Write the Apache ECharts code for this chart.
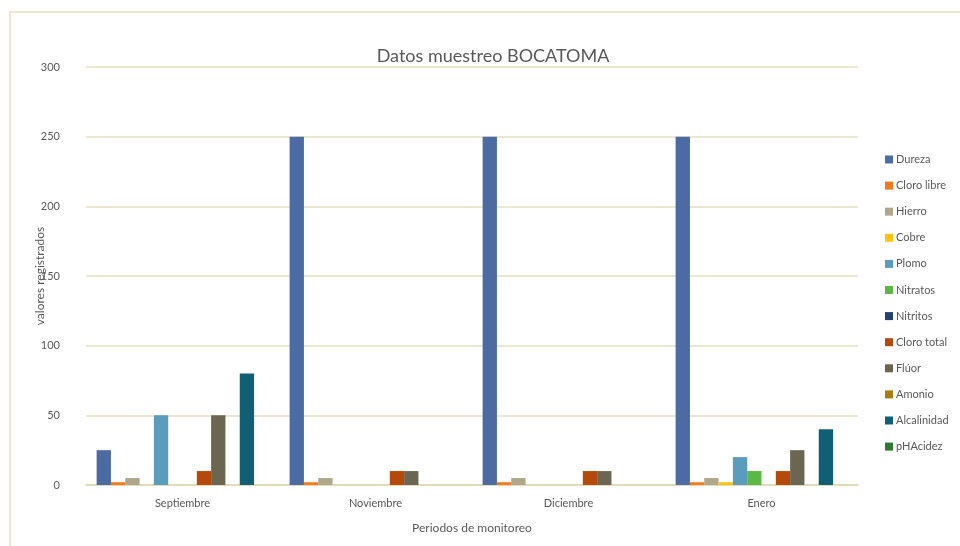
<!DOCTYPE html>
<html>
<head>
    <meta charset="utf-8">
    <title>Datos muestreo BOCATOMA</title>
    <script src="https://cdn.jsdelivr.net/npm/echarts@6/dist/echarts.min.js"></script>
    <style>
        html, body { margin: 0; padding: 0; background: #fff; }
        #chart { width: 960px; height: 546px; }
    </style>
</head>
<body>
    <div id="chart"></div>
    <script>
        // periodos
        const periodos = ['Septiembre', 'Noviembre', 'Diciembre', 'Enero'];
        const yTicks = [0, 50, 100, 150, 200, 250, 300];

        // valores por parametro (Sept, Nov, Dic, Ene)
        const dureza      = [25, 250, 250, 250];
        const cloroLibre  = [2, 2, 2, 2];
        const hierro      = [5, 5, 5, 5];
        const cobre       = [0, 0, 0, 2];
        const plomo       = [50, 0, 0, 20];
        const nitratos    = [0, 0, 0, 10];
        const nitritos    = [0, 0, 0, 0];
        const cloroTotal  = [10, 10, 10, 10];
        const fluor       = [50, 10, 10, 25];
        const amonio      = [0, 0, 0, 0];
        const alcalinidad = [80, 0, 0, 40];
        const phAcidez    = [0, 0, 0, 0];

        const series = [
            ['Dureza', dureza, '#4d6ba3'],
            ['Cloro libre', cloroLibre, '#f5791f'],
            ['Hierro', hierro, '#b0a68a'],
            ['Cobre', cobre, '#ffc20e'],
            ['Plomo', plomo, '#5b9bbb'],
            ['Nitratos', nitratos, '#5cb845'],
            ['Nitritos', nitritos, '#24426b'],
            ['Cloro total', cloroTotal, '#b5480b'],
            ['Flúor', fluor, '#6b6651'],
            ['Amonio', amonio, '#a97e0e'],
            ['Alcalinidad', alcalinidad, '#115f74'],
            ['pHAcidez', phAcidez, '#2f7a30']
        ];

        const font = 'Lato, "Open Sans", sans-serif';
        const chart = echarts.init(document.getElementById('chart'));

        chart.setOption({
            animation: false,
            textStyle: { fontFamily: font },
            graphic: [{
                type: 'rect',
                shape: { x: 10, y: 12, width: 1000, height: 600 },
                style: { fill: 'none', stroke: '#e3dfc3', lineWidth: 1.5 },
                silent: true
            }],
            title: {
                text: 'Datos muestreo BOCATOMA',
                left: 488,
                textAlign: 'center',
                top: 42,
                textStyle: { fontSize: 18, fontWeight: 'normal', color: '#595959', fontFamily: font }
            },
            legend: {
                orient: 'vertical',
                left: 880,
                top: 149,
                itemWidth: 8,
                itemHeight: 8,
                itemGap: 15.1,
                icon: 'rect',
                textStyle: { fontSize: 11, color: '#595959', padding: [0, 0, 0, -2] },
                data: series.map(s => s[0])
            },
            grid: { left: 86, right: 102, top: 67, bottom: 61 },
            xAxis: {
                type: 'category',
                data: periodos,
                name: 'Periodos de monitoreo',
                nameLocation: 'middle',
                nameGap: 37,
                nameMoveOverlap: false,
                nameTextStyle: { fontSize: 12, color: '#595959' },
                axisLine: { lineStyle: { color: '#dcd8b4', width: 1.5 } },
                axisTick: { show: false },
                axisLabel: { fontSize: 11, color: '#595959', margin: 13 }
            },
            yAxis: {
                type: 'value',
                min: yTicks[0],
                max: yTicks[yTicks.length - 1],
                interval: 50,
                name: 'valores registrados',
                nameLocation: 'middle',
                nameGap: 40,
                nameMoveOverlap: false,
                nameTextStyle: { fontSize: 12, color: '#595959' },
                axisLine: { show: false },
                axisTick: { show: false },
                axisLabel: { fontSize: 11, color: '#595959', margin: 26 },
                splitLine: { lineStyle: { color: '#e3dfc3', width: 1.5 } }
            },
            series: series.map(([name, values, color]) => ({
                name: name,
                type: 'bar',
                data: values,
                barGap: '0%',
                barCategoryGap: '11%',
                itemStyle: { color: color }
            }))
        });
    </script>
</body>
</html>
